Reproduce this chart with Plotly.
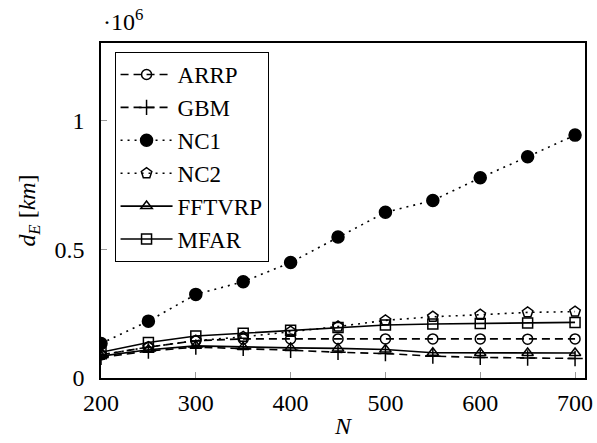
import plotly.graph_objects as go

N = [200, 250, 300, 350, 400, 450, 500, 550, 600, 650, 700]
ARRP = [0.090, 0.120, 0.145, 0.152, 0.152, 0.152, 0.152, 0.152, 0.152, 0.151, 0.152]
GBM = [0.080, 0.105, 0.120, 0.115, 0.108, 0.100, 0.095, 0.085, 0.080, 0.078, 0.076]
NC1 = [0.134, 0.221, 0.325, 0.374, 0.449, 0.548, 0.644, 0.690, 0.778, 0.860, 0.944]
NC2 = [0.090, 0.120, 0.145, 0.160, 0.180, 0.200, 0.224, 0.238, 0.246, 0.255, 0.258]
FFTVRP = [0.085, 0.110, 0.125, 0.120, 0.117, 0.115, 0.111, 0.098, 0.097, 0.097, 0.097]
MFAR = [0.100, 0.138, 0.163, 0.174, 0.186, 0.196, 0.206, 0.210, 0.212, 0.214, 0.216]

series = [
    ("ARRP", ARRP, "8px,5px", "circle-open", 10),
    ("GBM", GBM, "8px,5px", "cross-thin-open", 11),
    ("NC1", NC1, "2px,5px", "circle", 12),
    ("NC2", NC2, "2px,5px", "pentagon-open", 11),
    ("FFTVRP", FFTVRP, "solid", "triangle-up-open", 10),
    ("MFAR", MFAR, "solid", "square-open", 10),
]

FONT = "Liberation Serif, Times New Roman, Times, serif"

fig = go.Figure()
for name, vals, dash, sym, size in series:
    fig.add_trace(go.Scatter(
        x=N, y=vals, name=name, mode="lines+markers",
        line=dict(color="black", width=1.6, dash=dash),
        marker=dict(symbol=sym, size=size, color="black",
                    line=dict(color="black", width=1.5)),
    ))

fig.update_layout(
    width=597, height=443,
    margin=dict(l=101, r=12, t=43, b=65),
    paper_bgcolor="white", plot_bgcolor="white",
    font=dict(family=FONT, size=24, color="black"),
    showlegend=True,
    legend=dict(
        x=0.028, y=0.973, xanchor="left", yanchor="top",
        bordercolor="black", borderwidth=1, bgcolor="white",
        font=dict(family=FONT, size=23),
        itemwidth=52, tracegroupgap=0,
    ),
    xaxis=dict(
        range=[200, 710.5], tickvals=[200, 300, 400, 500, 600, 700],
        showgrid=False, zeroline=False, automargin=False,
        showline=True, linecolor="black", linewidth=1.5, mirror=True,
        ticks="inside", ticklen=6, tickcolor="#999999", tickwidth=1,
        ticklabelstandoff=2,
        title=dict(text="<i>N</i>", font=dict(size=24), standoff=3),
        tickfont=dict(size=24),
    ),
    yaxis=dict(
        range=[0, 1.302], tickvals=[0, 0.5, 1], ticktext=["0", "0.5", "1"],
        showgrid=False, zeroline=False, automargin=False,
        showline=True, linecolor="black", linewidth=1.5, mirror=True,
        ticks="inside", ticklen=6, tickcolor="#999999", tickwidth=1,
        ticklabelstandoff=10,
        title=dict(text="<i>d<sub>E</sub></i> [<i>km</i>]", font=dict(size=24), standoff=12),
        tickfont=dict(size=24),
    ),
    annotations=[dict(
        text="·10<sup>6</sup>", xref="paper", yref="paper", x=0.0, y=1.0,
        xanchor="left", yanchor="bottom", yshift=6, showarrow=False,
        font=dict(family=FONT, size=24),
    )],
)

fig.write_html("out.html", config={"displayModeBar": False},
               post_script="document.body.style.margin='0px';")
